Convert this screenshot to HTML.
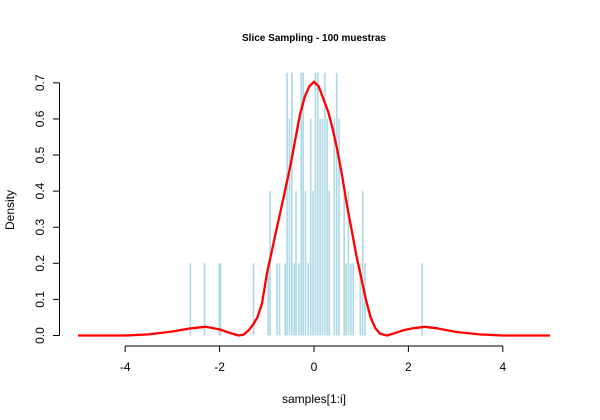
<!DOCTYPE html>
<html><head><meta charset="utf-8"><style>
body{margin:0;background:#fff}
svg{display:block;font-family:"Liberation Sans",Arial,sans-serif}
</style></head><body>
<svg id="chart" width="600" height="420">
<rect width="600" height="420" fill="#fff"/>
<text x="314" y="41" text-anchor="middle" font-size="10" font-weight="bold">Slice Sampling - 100 muestras</text>
<text x="314" y="403" text-anchor="middle" font-size="12">samples[1:i]</text>
<text transform="translate(14,210) rotate(-90)" text-anchor="middle" font-size="12">Density</text>
<g id="bars"></g>
<g id="curve"></g>
<g id="axes"></g>
</svg>
<script>
const binCenters=[-2.62,-2.32,-2.01,-1.98,-1.28,-0.97,-0.93,-0.78,-0.73,-0.61,-0.57,-0.52,-0.47,-0.42,-0.38,-0.32,-0.27,-0.23,-0.18,-0.12,-0.07,-0.02,0.03,0.08,0.13,0.18,0.23,0.28,0.32,0.43,0.48,0.53,0.64,0.68,0.73,0.78,0.83,0.98,1.03,1.08,2.29];
const binDensity=[0.2,0.2,0.2,0.2,0.2,0.2,0.4,0.2,0.2,0.2,0.8,0.6,0.8,0.2,0.4,0.2,0.8,0.8,0.4,0.2,0.6,0.4,0.8,0.8,0.6,0.6,0.8,0.6,0.4,0.6,0.8,0.6,0.4,0.2,0.4,0.2,0.2,0.2,0.4,0.2,0.2];
const curveX=[-5,-4,-3.5,-3,-2.6,-2.3,-2,-1.8,-1.6,-1.5,-1.4,-1.3,-1.2,-1.1,-1.0,-0.9,-0.8,-0.7,-0.6,-0.5,-0.4,-0.3,-0.2,-0.1,0,0.1,0.2,0.3,0.4,0.5,0.6,0.7,0.8,0.9,1.0,1.1,1.2,1.3,1.4,1.55,1.7,1.9,2.1,2.35,2.6,3,3.5,4,5];
const curveY=[0,0,0.003,0.011,0.02,0.024,0.017,0.008,0.0,0.002,0.012,0.028,0.05,0.09,0.17,0.23,0.29,0.35,0.41,0.47,0.54,0.61,0.66,0.69,0.703,0.69,0.655,0.62,0.57,0.51,0.44,0.36,0.29,0.22,0.16,0.1,0.05,0.02,0.005,0,0.006,0.015,0.02,0.024,0.02,0.01,0.003,0,0];
const xTicks=[-4,-2,0,2,4];
const yTicks=[0,0.1,0.2,0.3,0.4,0.5,0.6,0.7];
const yTickLabels=["0.0","0.1","0.2","0.3","0.4","0.5","0.6","0.7"];

const NS="http://www.w3.org/2000/svg";
const sx=v=>314+v*47.2;
const sy=v=>335.5-v*361;
const yTop=0.728;
function mk(tag,attrs,parent){const e=document.createElementNS(NS,tag);for(const k in attrs)e.setAttribute(k,attrs[k]);parent.appendChild(e);return e;}
const bars=document.getElementById('bars');
binCenters.forEach((c,i)=>{
  const h=Math.min(binDensity[i],yTop);
  const r=mk('rect',{x:sx(c)-0.8,y:sy(h),width:1.6,height:sy(0)-sy(h),fill:'#add8e6'},bars);
  
  
});
const cg=document.getElementById('curve');
const pts=curveX.map((x,i)=>sx(x).toFixed(1)+','+sy(curveY[i]).toFixed(1)).join(' ');
const pl=mk('polyline',{points:pts,fill:'none',stroke:'#ff0000','stroke-width':2.3,'stroke-linejoin':'round'},cg);


const ax=document.getElementById('axes');
const xl=mk('line',{x1:sx(-4),x2:sx(4),y1:346,y2:346,stroke:'#000'},ax);


xTicks.forEach(t=>{
  mk('line',{x1:sx(t),x2:sx(t),y1:346,y2:352,stroke:'#000'},ax);
  const tx=mk('text',{x:sx(t),y:371,'text-anchor':'middle','font-size':12},ax);
  tx.textContent=t<0?'-'+Math.abs(t):String(t);
  
  
});
const yl=mk('line',{x1:59.5,x2:59.5,y1:sy(0.7),y2:sy(0),stroke:'#000'},ax);


yTicks.forEach((t,i)=>{
  mk('line',{x1:53,x2:59.5,y1:sy(t),y2:sy(t),stroke:'#000'},ax);
  const tx=mk('text',{transform:'translate(44,'+sy(t)+') rotate(-90)','text-anchor':'middle','font-size':12},ax);
  tx.textContent=yTickLabels[i];
  
  
});
</script>
</body></html>
